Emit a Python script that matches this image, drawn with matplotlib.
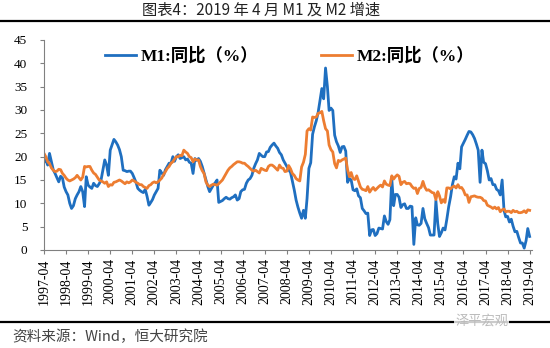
import numpy as np
import pandas as pd
import matplotlib
matplotlib.use('Agg')
import matplotlib.pyplot as plt
from matplotlib.lines import Line2D

plt.rcParams['font.family'] = ['Liberation Serif', 'Noto Sans CJK SC', 'DejaVu Sans']

# monthly, 1997-04 .. 2019-04 (one row = Apr..Mar)
m1 = [18.9, 19.3, 18.2, 20.7, 19.0, 17.2, 16.4, 15.5, 14.6, 15.8, 15.4, 13.5,
      12.5, 11.8, 10.0, 8.9, 9.5, 11.0, 11.8, 12.5, 13.6, 12.5, 9.3, 15.7,
      13.9, 13.5, 13.2, 14.3, 13.8, 13.6, 14.2, 15.0, 17.1, 19.3, 18.2, 16.0,
      21.4, 22.5, 23.7, 23.2, 22.5, 21.5, 20.0, 17.1, 17.0, 16.8, 16.9, 16.9,
      16.4, 15.5, 14.5, 13.2, 12.8, 12.5, 12.3, 13.0, 11.5, 9.6, 10.2, 10.8,
      11.8, 12.5, 13.2, 17.1, 16.5, 16.0, 17.2, 17.9, 18.6, 18.6, 20.0, 19.0,
      20.0, 20.4, 19.6, 19.8, 20.0, 19.3, 19.5, 18.8, 18.6, 16.4, 19.6, 19.2,
      19.6, 19.0, 17.9, 16.5, 15.0, 13.6, 12.5, 13.2, 13.9, 14.4, 15.0, 10.2,
      10.4, 10.6, 11.0, 11.3, 11.0, 10.9, 11.2, 11.4, 11.8, 10.7, 11.0, 12.5,
      12.9, 13.0, 14.3, 15.0, 15.3, 16.0, 17.5, 18.5, 19.3, 20.7, 20.3, 20.0,
      20.0, 21.0, 21.1, 22.0, 22.5, 22.9, 22.3, 21.8, 20.9, 20.4, 19.3, 18.6,
      17.9, 17.2, 16.6, 14.8, 12.9, 10.7, 9.2, 7.9, 6.8, 8.5, 6.8, 11.0,
      17.5, 18.7, 24.8, 26.4, 27.7, 29.5, 32.0, 34.6, 32.4, 39.0, 35.0, 29.9,
      30.4, 29.9, 24.6, 23.2, 22.3, 20.9, 22.1, 22.2, 21.2, 14.5, 15.3, 15.0,
      12.9, 12.7, 13.1, 11.6, 11.2, 8.9, 8.4, 7.8, 7.9, 3.1, 4.3, 4.4,
      3.1, 3.5, 4.7, 4.6, 4.5, 7.3, 6.1, 5.5, 6.5, 15.3, 9.5, 11.9,
      11.9, 11.3, 9.1, 9.7, 9.9, 8.9, 8.9, 9.4, 9.3, 1.2, 6.9, 5.4,
      5.3, 5.7, 8.9, 6.7, 5.7, 4.8, 3.2, 3.2, 3.2, 10.6, 5.6, 2.9,
      3.7, 4.7, 4.3, 6.6, 9.3, 11.4, 14.0, 15.7, 15.2, 18.6, 17.4, 22.1,
      22.9, 23.7, 24.6, 25.4, 25.3, 24.7, 23.9, 22.7, 21.4, 14.5, 21.4, 18.8,
      18.5, 17.0, 15.0, 15.3, 14.0, 14.0, 13.0, 12.7, 11.8, 15.0, 8.5, 7.1,
      7.2, 6.0, 6.6, 5.1, 3.9, 4.0, 2.7, 1.5, 1.5, 0.4, 2.0, 4.6,
      2.9]

m2 = [20.7, 20.0, 18.9, 18.5, 17.6, 17.1, 16.8, 16.9, 17.3, 17.2, 16.4, 16.0,
      15.4, 15.0, 14.8, 15.0, 15.2, 15.5, 16.0, 15.5, 15.0, 15.6, 17.9, 17.8,
      17.9, 17.9, 17.1, 16.5, 16.2, 15.6, 15.0, 14.8, 14.6, 14.3, 14.6, 13.6,
      14.0, 13.9, 14.5, 14.6, 14.8, 15.0, 14.8, 14.5, 14.2, 14.6, 14.4, 14.6,
      15.0, 14.8, 14.5, 14.3, 14.0, 14.0, 13.6, 13.4, 13.2, 13.8, 14.0, 14.4,
      14.6, 14.4, 14.6, 15.0, 15.4, 16.2, 16.8, 17.5, 17.9, 18.6, 18.9, 19.5,
      20.0, 20.0, 20.3, 20.2, 21.4, 21.0, 20.7, 20.0, 19.8, 18.9, 19.5, 19.3,
      19.3, 17.9, 17.0, 16.4, 14.6, 13.9, 13.6, 13.9, 14.1, 14.0, 13.9, 14.2,
      14.6, 15.0, 15.7, 16.4, 17.1, 17.6, 17.9, 18.3, 18.6, 18.9, 18.9, 18.8,
      18.6, 18.6, 18.2, 17.9, 17.5, 17.1, 16.9, 17.1, 16.8, 16.5, 17.5, 17.3,
      17.1, 17.0, 17.9, 18.2, 18.2, 17.9, 17.5, 17.1, 18.2, 17.6, 17.5, 16.8,
      16.9, 18.1, 17.4, 16.4, 16.0, 15.3, 15.0, 14.8, 17.8, 18.8, 20.5, 25.5,
      26.0, 25.7, 28.5, 28.4, 28.5, 29.3, 29.4, 29.7, 27.7, 26.0, 25.5, 22.5,
      21.5, 21.0, 18.5, 17.6, 19.2, 19.0, 19.3, 19.5, 19.7, 17.2, 15.7, 16.6,
      15.3, 15.1, 15.9, 14.7, 13.5, 13.0, 12.9, 12.7, 13.6, 12.4, 13.0, 13.4,
      12.8, 13.2, 13.6, 13.9, 13.5, 14.8, 14.1, 13.9, 13.8, 15.9, 15.2, 15.7,
      16.1, 15.8, 14.0, 14.5, 14.7, 14.2, 14.3, 14.2, 13.6, 13.2, 13.3, 12.1,
      13.2, 13.4, 14.7, 13.5, 12.8, 12.9, 12.6, 12.3, 12.2, 10.8, 12.5, 11.6,
      10.1, 10.8, 10.2, 13.3, 13.3, 13.1, 13.5, 13.7, 13.3, 14.0, 13.3, 13.4,
      12.8, 11.8, 11.8, 10.2, 11.4, 11.5, 11.6, 11.4, 11.3, 11.3, 11.1, 10.6,
      10.5, 9.6, 9.4, 9.2, 8.9, 9.2, 8.8, 9.1, 8.2, 8.6, 8.8, 8.2,
      8.3, 8.3, 8.0, 8.5, 8.2, 8.3, 8.0, 8.0, 8.1, 8.4, 8.0, 8.6,
      8.5]

dates = pd.date_range('1997-04-01', '2019-04-01', freq='MS')
tick_dates = pd.date_range('1997-04-01', '2019-04-01', freq='12MS')
tick_labels = [d.strftime('%Y-%m') for d in tick_dates]

fig = plt.figure(figsize=(5.5, 3.48), dpi=100)
ax = fig.add_axes([44/550, 1-250/348, 488/550, 210/348])

ax.plot(dates, m1, color='#1f6fc0', lw=2.0, label='M1:同比（%）')
ax.plot(dates, m2, color='#ed7d31', lw=2.0, label='M2:同比（%）')

ax.set_ylim(0, 45)
ax.set_yticks(range(0, 46, 5))
ax.set_yticklabels([str(v) for v in range(0, 46, 5)], family='Liberation Serif', fontsize=9.5)
ax.set_xlim(pd.Timestamp('1997-04-01'), pd.Timestamp('2019-05-10'))
ax.set_xticks(tick_dates)
ax.set_xticklabels(tick_labels, rotation=90, family='Liberation Serif', fontsize=10)
ax.tick_params(axis='both', color='#808080', length=3)
ax.tick_params(axis='y', pad=9)
ax.tick_params(axis='x', pad=3)
for s in ['top', 'right']:
    ax.spines[s].set_visible(False)
for s in ['left', 'bottom']:
    ax.spines[s].set_color('#808080')

leg = ax.legend(loc='upper center', bbox_to_anchor=(0.504, 1.04), ncol=2, frameon=False,
                handlelength=1.75, columnspacing=3.6, handletextpad=0.3,
                prop={'weight': 'bold', 'size': 12.5})

fig.text(0.475, 1-10/348, '图表4：2019 年 4 月 M1 及 M2 增速', ha='center', va='center',
         fontsize=11, family=['Noto Sans CJK SC', 'DejaVu Sans'], color='#222222')
fig.add_artist(Line2D([0, 1], [1-21/348]*2, color='black', lw=1.6))
fig.add_artist(Line2D([0, 1], [1-322/348]*2, color='black', lw=1.6))
fig.text(12/550, 1-337/348, '资料来源：Wind，恒大研究院', ha='left', va='center',
         fontsize=10.5, style='italic', family=['Noto Sans CJK SC', 'DejaVu Sans'], color='#444444')
fig.text(455/550, 1-321/348, '泽平宏观', ha='left', va='center', fontsize=9.5,
         family=['Noto Sans CJK SC'], color='#bbbbbb',
         bbox=dict(facecolor='white', edgecolor='none', pad=0.5, alpha=0.8))

fig.savefig('out.png', dpi=100)
